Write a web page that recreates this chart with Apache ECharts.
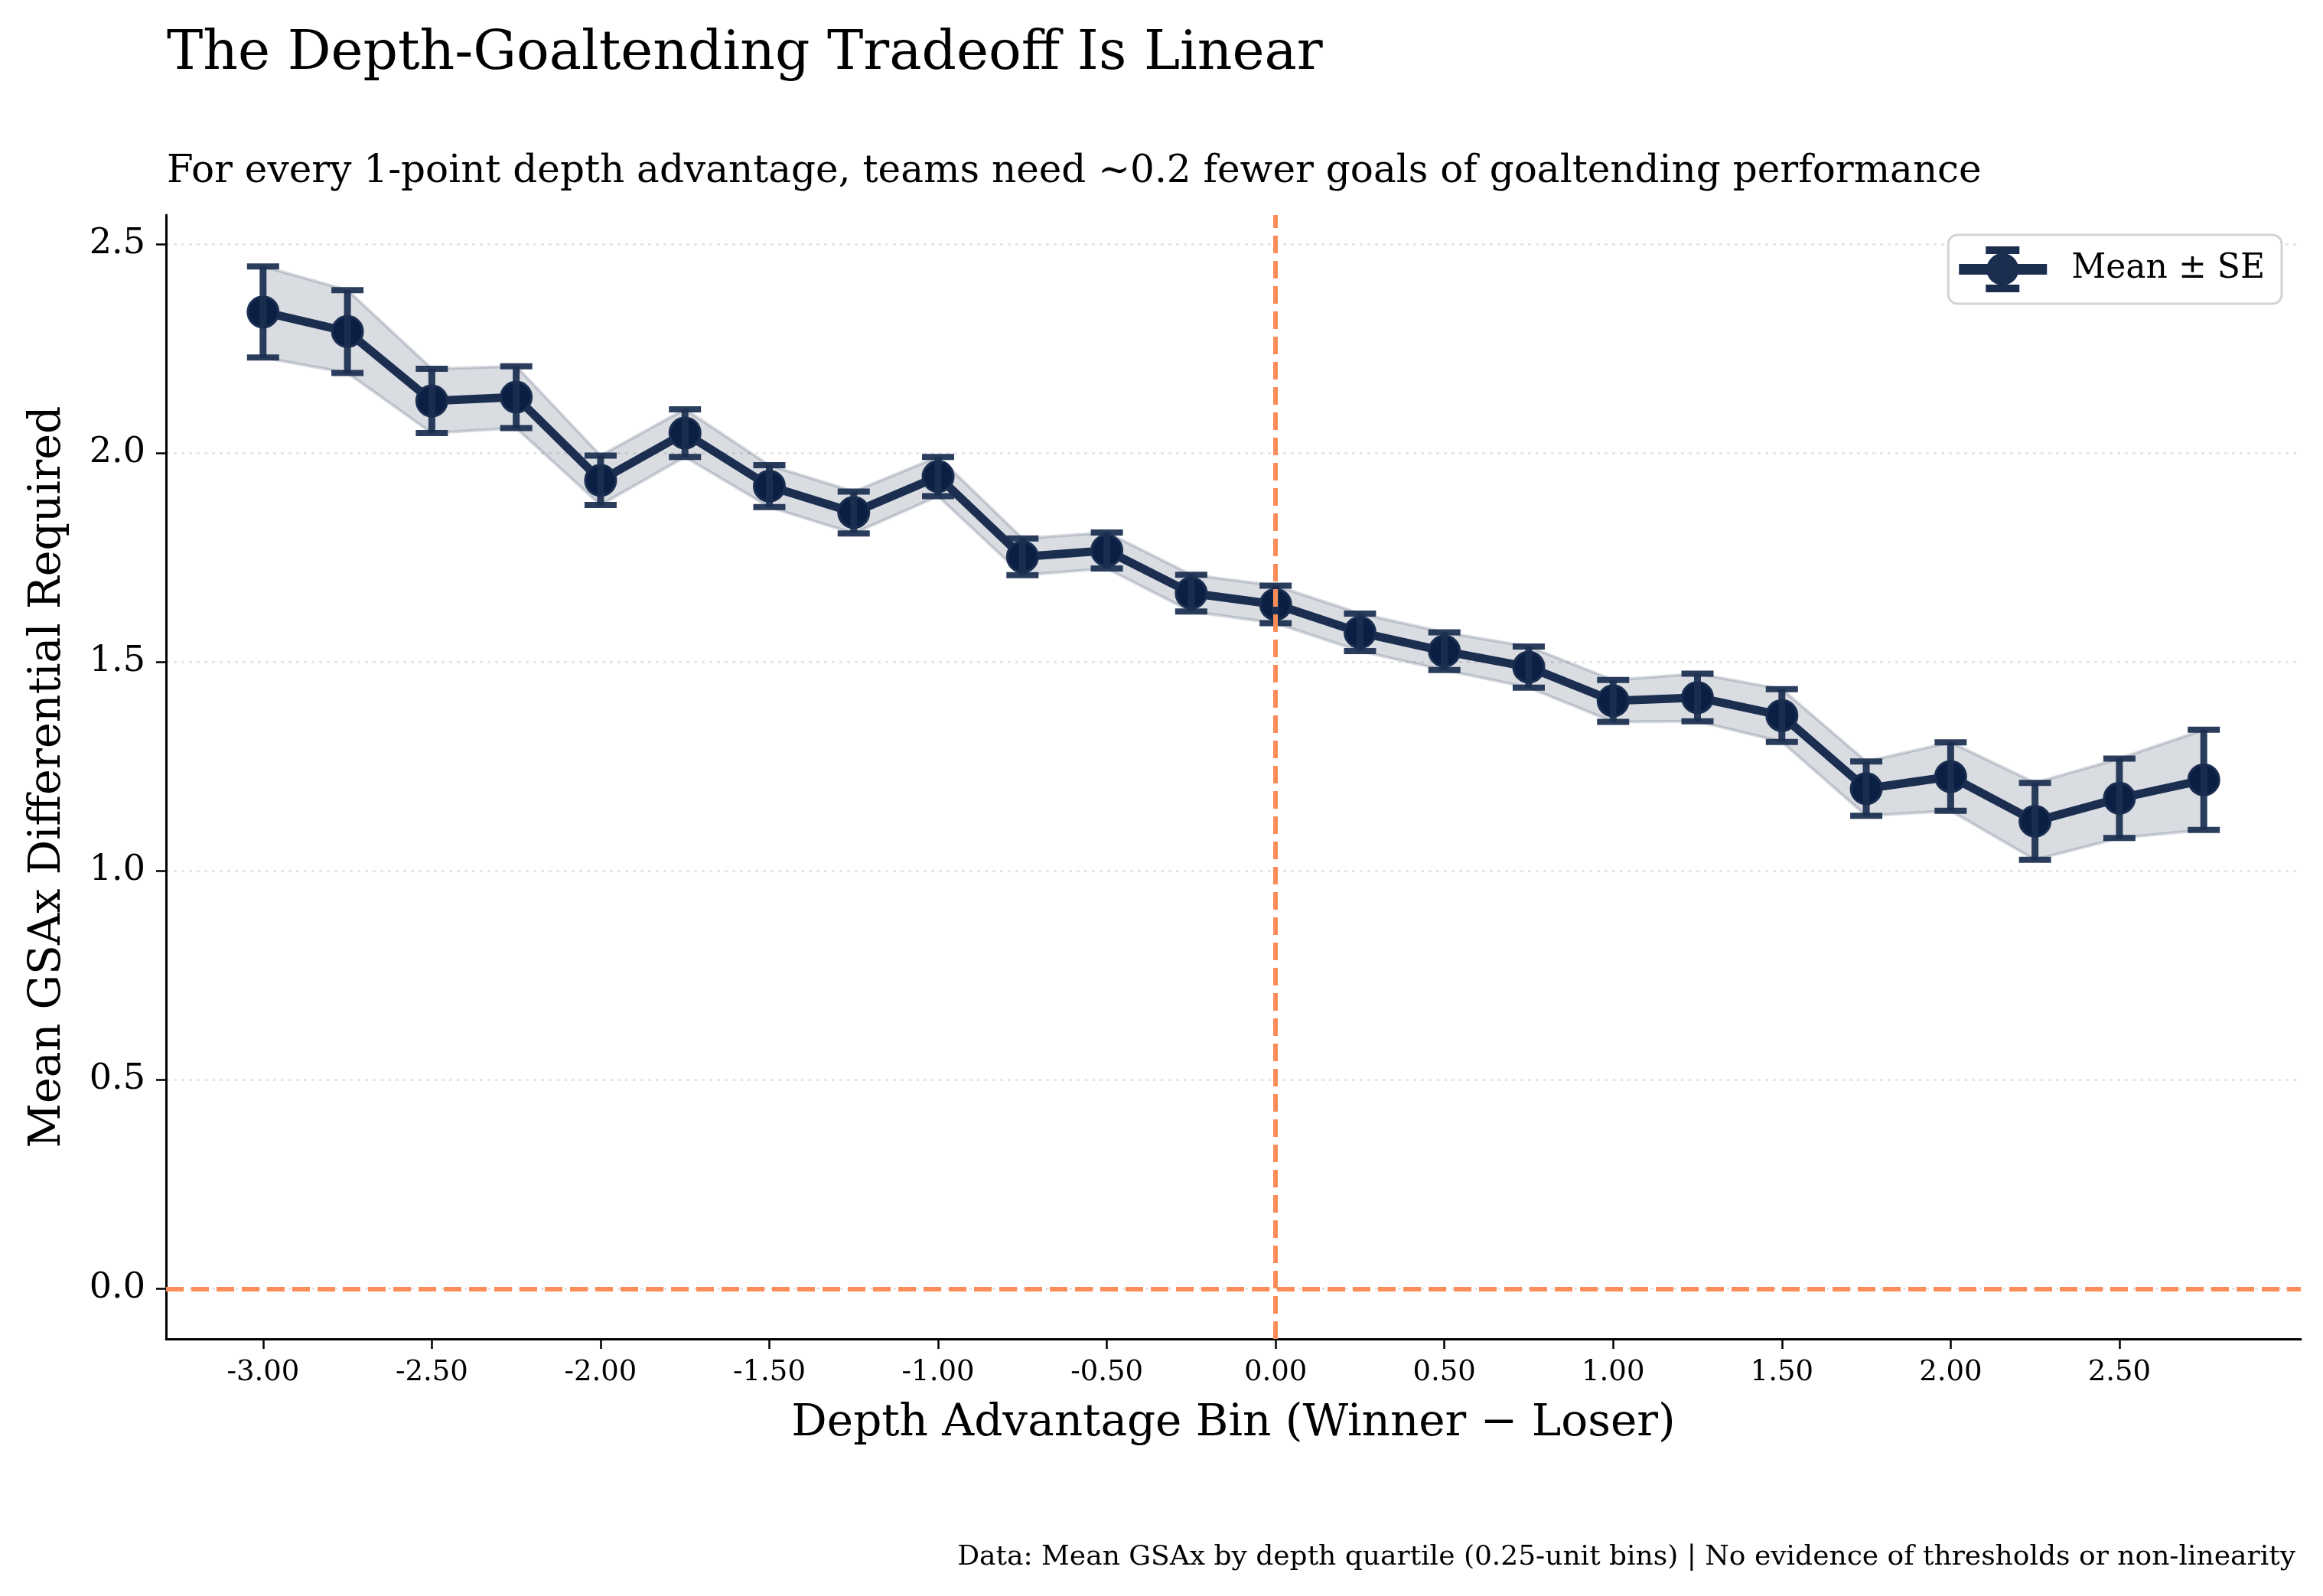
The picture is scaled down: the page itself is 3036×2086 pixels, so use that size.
<!DOCTYPE html>
<html><head><meta charset="utf-8">
<script src="https://cdn.jsdelivr.net/npm/echarts@6/dist/echarts.min.js"></script>
<style>html,body{margin:0;padding:0;background:#fff}#c{width:3036px;height:2086px}</style>
</head><body><div id="c"></div>
<script>
const bins = [-3.00,-2.75,-2.50,-2.25,-2.00,-1.75,-1.50,-1.25,-1.00,-0.75,-0.50,-0.25,0.00,0.25,0.50,0.75,1.00,1.25,1.50,1.75,2.00,2.25,2.50,2.75];
const means = [2.338,2.291,2.125,2.134,1.935,2.048,1.921,1.858,1.944,1.752,1.767,1.665,1.638,1.571,1.526,1.488,1.407,1.415,1.372,1.197,1.226,1.119,1.174,1.218];
const se = [0.109,0.099,0.077,0.074,0.059,0.057,0.050,0.050,0.047,0.044,0.043,0.044,0.045,0.045,0.045,0.049,0.050,0.057,0.063,0.065,0.082,0.092,0.095,0.120];
const xTicks = [-3.0,-2.5,-2.0,-1.5,-1.0,-0.5,0.0,0.5,1.0,1.5,2.0,2.5];
const yTicks = [0.0,0.5,1.0,1.5,2.0,2.5];
const refLineX = 0, refLineY = 0;

const FONT = 'DejaVu Serif';
const NAVY = '#1b2e50';
const lower = means.map((m,i)=>m-se[i]);
const upper = means.map((m,i)=>m+se[i]);

const chart = echarts.init(document.getElementById('c'), null, {renderer:'canvas'});
chart.setOption({
  backgroundColor:'#ffffff',
  animation:false,
  title:[
    {text:'The Depth-Goaltending Tradeoff Is Linear', left:213, top:31,
     textStyle:{fontFamily:FONT, fontSize:71, lineHeight:71, fontWeight:'normal', color:'#000'}},
    {text:'For every 1-point depth advantage, teams need \u223C0.2 fewer goals of goaltending performance', left:213, top:195,
     textStyle:{fontFamily:FONT, fontSize:50, lineHeight:50, fontWeight:'normal', color:'#000'}},
    {text:'Data: Mean GSAx by depth quartile (0.25-unit bins) | No evidence of thresholds or non-linearity', right:31, top:2013,
     textStyle:{fontFamily:FONT, fontSize:36, lineHeight:36, fontWeight:'normal', color:'#000'}}
  ],
  legend:{
    right:54, top:307, orient:'vertical',
    padding:[15,22,15,14],
    borderColor:'#d3d3d3', borderWidth:3, borderRadius:12, backgroundColor:'#fff',
    itemWidth:113, itemHeight:58,
    textStyle:{fontFamily:FONT, fontSize:44, color:'#000', padding:[0,0,0,28]},
    data:[{name:'Mean \u00B1 SE', icon:'path://M0,23h113v12h-113z M76,29a20,20 0 1,1 -40,0a20,20 0 1,1 40,0z M35,0h42v8h-42z M35,50h42v8h-42z M52,0h8v58h-8z', itemStyle:{color:NAVY}}]
  },
  grid:{left:217, right:29, top:281, bottom:336, containLabel:false},
  xAxis:{
    type:'value', min:-3.2875, max:3.0375,
    name:'Depth Advantage Bin (Winner \u2212 Loser)', nameLocation:'middle', nameGap:82,
    nameTextStyle:{fontFamily:FONT, fontSize:58, color:'#000'},
    axisLine:{show:true, onZero:false, lineStyle:{color:'#000', width:3}},
    axisTick:{show:true, length:13, lineStyle:{color:'#000', width:2.5}, customValues:xTicks},
    axisLabel:{fontFamily:FONT, fontSize:37, color:'#000', margin:26, customValues:xTicks, formatter:v=>v.toFixed(2)},
    splitLine:{show:false}
  },
  yAxis:{
    type:'value', min:-0.12, max:2.57,
    name:'Mean GSAx Differential Required', nameLocation:'middle', nameGap:125,
    nameTextStyle:{fontFamily:FONT, fontSize:57, color:'#000'},
    axisLine:{show:true, onZero:false, lineStyle:{color:'#000', width:3}},
    axisTick:{show:true, length:13, lineStyle:{color:'#000', width:2.5}, customValues:yTicks},
    axisLabel:{fontFamily:FONT, fontSize:46, color:'#000', margin:27, customValues:yTicks, formatter:v=>v.toFixed(1)},
    splitLine:{show:true, lineStyle:{color:'#e2e2e2', width:2.5, type:[4,6]}}
  },
  series:[
    {
      type:'custom', name:'band', z:1, silent:true,
      data:[[bins[0], lower[0], upper[0]]],
      encode:{x:0, y:1},
      renderItem:function(params, api){
        const top = bins.map((x,i)=>api.coord([x, upper[i]]));
        const bot = bins.map((x,i)=>api.coord([x, lower[i]]));
        const poly = top.concat(bot.slice().reverse());
        return {type:'group', children:[
          {type:'polygon', shape:{points:poly}, style:{fill:'rgba(27,46,80,0.17)', stroke:null}},
          {type:'polyline', shape:{points:top}, style:{stroke:'rgba(27,46,80,0.18)', lineWidth:4, fill:null}},
          {type:'polyline', shape:{points:bot}, style:{stroke:'rgba(27,46,80,0.18)', lineWidth:4, fill:null}}
        ]};
      },
      markLine:{
        silent:true, symbol:['none','none'], label:{show:false},
        lineStyle:{color:'#fc8d59', width:6, type:[23,10]},
        data:[{xAxis:refLineX},{yAxis:refLineY}]
      }
    },
    {
      type:'line', name:'Mean \u00B1 SE', z:3,
      data:bins.map((x,i)=>[x, means[i]]),
      lineStyle:{color:NAVY, width:11},
      symbol:'circle', symbolSize:40,
      itemStyle:{color:'#0b1f45', borderColor:NAVY, borderWidth:3},
      emphasis:{disabled:true}
    },
    {
      type:'custom', name:'err', z:4, silent:true,
      data:bins.map((x,i)=>[x, lower[i], upper[i]]),
      encode:{x:0, y:[1,2]},
      renderItem:function(params, api){
        const x = api.value(0);
        const pLo = api.coord([x, api.value(1)]);
        const pHi = api.coord([x, api.value(2)]);
        const cap = 42, ch = 8, bw = 9;
        const st = {fill:'rgba(27,46,80,0.93)'};
        return {type:'group', children:[
          {type:'rect', shape:{x:pHi[0]-bw/2, y:pHi[1], width:bw, height:pLo[1]-pHi[1]}, style:st},
          {type:'rect', shape:{x:pHi[0]-cap/2, y:pHi[1]-ch/2, width:cap, height:ch}, style:st},
          {type:'rect', shape:{x:pLo[0]-cap/2, y:pLo[1]-ch/2, width:cap, height:ch}, style:st}
        ]};
      }
    }
  ]
});
</script></body></html>
